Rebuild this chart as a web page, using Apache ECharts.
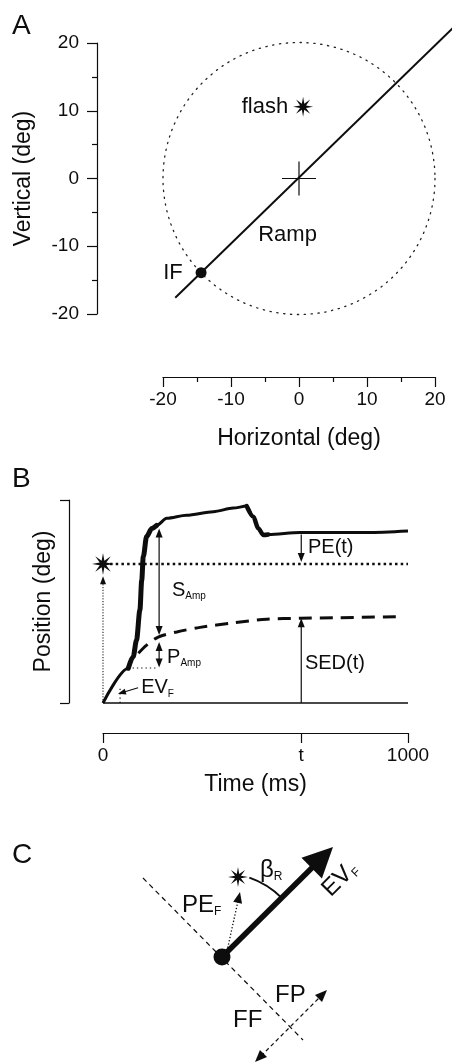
<!DOCTYPE html>
<html><head><meta charset="utf-8">
<script src="https://cdn.jsdelivr.net/npm/echarts@6/dist/echarts.min.js"></script>
<style>html,body{margin:0;padding:0;background:#fff}#c{width:452px;height:1064px}</style>
</head><body><div id="c"></div>
<script>
// ================= DATA =================
// ---- Panel A (deg) ----
const aMin = -20, aMax = 20, aInterval = 10;
const rampX = [-18.2, 22.6];
const rampY = [-17.6, 22.2];
const ifPoint = [-14.4, -13.9];
const flashPoint = [0.6, 10.6];
const crossH = [-2.5, 0, 2.5, 0];
const crossV = [0, -2.5, 0, 2.5];
const circleA = [0, 0, 20];               // centre x, centre y, radius
const labelTextA = ['flash', 'Ramp', 'IF'];
const labelAtA = [[-1.6, 10.6], [-6.0, -8.3], [-17.1, -13.9]];

// ---- Panel B (time ms, position) ----
const timeMin = 0, timeMax = 1000;
const posMin = 0, posMax = 20;
const timeTicks = [0, 650, 1000];
const timeTickText = ['0', 't', '1000'];
const eyeTime = [0, 83, 99, 110, 121, 127, 132, 143, 160, 176, 209, 274, 362, 427, 471, 493, 509, 526, 542, 646, 754, 866, 1000];
const eyePos  = [0, 3.42, 4.56, 6.21, 9.16, 12.1, 14.4, 16.4, 17.2, 17.5, 18.2, 18.5, 18.85, 19.2, 19.4, 18.35, 17.2, 16.55, 16.6, 16.8, 16.8, 16.8, 16.95];
const saccadeIdx = [1, 9];
const pspIdx = [14, 18];
const sedTime = [116, 143, 181, 242, 318, 427, 537, 646, 755, 976];
const sedPos  = [4.9, 5.7, 6.5, 7.0, 7.45, 7.9, 8.25, 8.35, 8.4, 8.5];
const flashB = [0, 13.7];
const flashLineB = [23, 13.7, 1000, 13.7];
const baselineB = [0, 0, 1000, 0];
const peFArrow = [0, 0, 0, 12.5];
const sAmpArrow = [184, 17.2, 184, 6.7];
const pAmpArrow = [184, 6.0, 184, 3.5];
const pAmpGuide = [83, 3.45, 178, 3.45];
const peTArrow = [650, 16.6, 650, 13.9];
const sedTArrow = [650, 0, 650, 8.35];
const evFArrow = [115, 1.5, 49, 0.9];
const evFGuide = [56, 0, 56, 1.5];
const labelTextB = ['PE{s|F}', 'S{s|Amp}', 'P{s|Amp}', 'EV{s|F}', 'PE(t)', 'SED(t)'];
const labelAtB = [[-49, 7.9], [226, 11.1], [210, 4.5], [125, 1.5], [672, 15.3], [662, 3.9]];

// ---- Panel C (schematic units) ----
const cXRange = [-100, 160], cYRange = [-107, 125];
const cDot = [0, 0];
const evArrowC = [0, 0, 111, 110];
const ffLineC = [-79, 79, 81, -83];
const ffArrowC = [33, -105, 105, -33];
const starC = [16, 80];
const peArrowC = [5, 6, 18, 65];
const betaArcC = [0, 0, 84, 45, 71];       // centre, radius, from angle, to angle (deg)
const labelTextC = ['PE{s|F}', 'β{s|R}', 'FP', 'FF'];
const labelAtC = [[-40, 52], [38, 87], [53, -38], [11, -63]];
const evLabelC = ['EV{s|F}', [118, 78]];

// ================= RENDER =================
const FONT = "'Liberation Sans', Arial, Helvetica, sans-serif";
const INK = '#0d0d0d';

function starPath() {
  let d = '';
  for (let i = 0; i < 16; i++) {
    const a = Math.PI * i / 8 - Math.PI / 2;
    const r = i % 2 === 0 ? 10 : 3.2;
    d += (i === 0 ? 'M' : 'L') + (10 + r * Math.cos(a)).toFixed(2) + ',' + (10 + r * Math.sin(a)).toFixed(2);
  }
  return 'path://' + d + 'Z';
}
const STAR = starPath();

function segSeries(gi, segs, o) {
  return {
    type: 'custom', xAxisIndex: gi, yAxisIndex: gi, silent: true, z: o.z || 4, clip: false,
    encode: { x: [0, 2], y: [1, 3] },
    data: segs,
    renderItem: function (params, api) {
      const p1 = api.coord([api.value(0), api.value(1)]);
      const p2 = api.coord([api.value(2), api.value(3)]);
      const dx = p2[0] - p1[0], dy = p2[1] - p1[1];
      const len = Math.hypot(dx, dy) || 1;
      const ux = dx / len, uy = dy / len;
      const L = o.headL || 0, W = o.headW || 0;
      const children = [];
      let a = p1.slice(), b = p2.slice();
      function head(tip, sx, sy) {
        const bx = tip[0] - sx * L, by = tip[1] - sy * L;
        return { type: 'polygon', shape: { points: [tip, [bx - sy * W / 2, by + sx * W / 2], [bx + sy * W / 2, by - sx * W / 2]] }, style: { fill: INK } };
      }
      if (o.end) { children.push(head(p2, ux, uy)); b = [p2[0] - ux * L * 0.7, p2[1] - uy * L * 0.7]; }
      if (o.start) { children.push(head(p1, -ux, -uy)); a = [p1[0] + ux * L * 0.7, p1[1] + uy * L * 0.7]; }
      children.unshift({ type: 'line', shape: { x1: a[0], y1: a[1], x2: b[0], y2: b[1] },
        style: { stroke: INK, lineWidth: o.width || 1, lineDash: o.dash || null, lineCap: o.cap || 'butt', fill: null } });
      return { type: 'group', children: children };
    }
  };
}

function labelSeries(gi, texts, ats, fontSize, aligns, extra) {
  return {
    type: 'scatter', xAxisIndex: gi, yAxisIndex: gi, symbolSize: 0, silent: true, z: 10,
    itemStyle: { opacity: 1 },
    data: texts.map((t, i) => ({
      value: ats[i],
      label: Object.assign({
        show: true, position: 'inside', formatter: t, align: aligns[i], verticalAlign: 'middle',
        fontFamily: FONT, fontSize: fontSize, color: INK, lineHeight: fontSize + 2,
        rich: { s: { fontFamily: FONT, fontSize: Math.round(fontSize * 0.52), lineHeight: Math.round(fontSize * 0.42), verticalAlign: 'bottom', color: INK } }
      }, extra ? extra[i] : {})
    }))
  };
}

function markSeries(gi, pts, symbol, size) {
  return { type: 'scatter', xAxisIndex: gi, yAxisIndex: gi, silent: true, z: 6, data: pts,
    symbol: symbol, symbolSize: size, itemStyle: { color: INK, opacity: 1 } };
}

const axisTxt = { fontFamily: FONT, fontSize: 19, color: INK };
const nameTxt = { fontFamily: FONT, fontSize: 23, color: INK };
const lineAx = { show: true, onZero: false, lineStyle: { color: INK, width: 1.2 } };
const letter = { fontFamily: FONT, fontSize: 28, fontWeight: 'normal', color: INK };

const option = {
  animation: false,
  backgroundColor: '#fff',
  title: [
    { text: 'A', left: 12, top: 12, padding: 0, textStyle: letter },
    { text: 'B', left: 12, top: 465, padding: 0, textStyle: letter },
    { text: 'C', left: 12, top: 841, padding: 0, textStyle: letter }
  ],
  grid: [
    { left: 163, top: 43, width: 272, height: 271 },
    { left: 103, top: 500, width: 305, height: 203 },
    { left: 122, top: 832, width: 260, height: 232 }
  ],
  xAxis: [
    { gridIndex: 0, type: 'value', min: aMin, max: aMax, interval: aInterval, offset: 63,
      axisLine: lineAx, axisTick: { length: 10, lineStyle: { color: INK, width: 1.2 } },
      minorTick: { show: true, splitNumber: 2, length: 5, lineStyle: { color: INK, width: 1.2 } },
      splitLine: { show: false }, minorSplitLine: { show: false },
      axisLabel: Object.assign({ margin: 13 }, axisTxt),
      name: 'Horizontal (deg)', nameLocation: 'middle', nameGap: 50, nameTextStyle: nameTxt },
    { gridIndex: 1, type: 'value', min: timeMin, max: timeMax, offset: 30,
      axisLine: lineAx,
      axisTick: { length: 10, customValues: timeTicks, lineStyle: { color: INK, width: 1.2 } },
      splitLine: { show: false },
      axisLabel: Object.assign({ margin: 13, customValues: timeTicks, formatter: v => timeTickText[timeTicks.indexOf(v)] }, axisTxt),
      name: 'Time (ms)', nameLocation: 'middle', nameGap: 40, nameTextStyle: nameTxt },
    { gridIndex: 2, type: 'value', min: cXRange[0], max: cXRange[1], show: false }
  ],
  yAxis: [
    { gridIndex: 0, type: 'value', min: aMin, max: aMax, interval: aInterval, offset: 66,
      axisLine: lineAx, axisTick: { length: 10, lineStyle: { color: INK, width: 1.2 } },
      minorTick: { show: true, splitNumber: 2, length: 5, lineStyle: { color: INK, width: 1.2 } },
      splitLine: { show: false }, minorSplitLine: { show: false },
      axisLabel: Object.assign({ margin: 18 }, axisTxt),
      name: 'Vertical (deg)', nameLocation: 'middle', nameGap: 62, nameRotate: 90, nameTextStyle: nameTxt },
    { gridIndex: 1, type: 'value', min: posMin, max: posMax, interval: posMax - posMin, offset: 34,
      axisLine: lineAx, axisTick: { length: 9, lineStyle: { color: INK, width: 1.2 } },
      axisLabel: { show: false }, splitLine: { show: false },
      name: 'Position (deg)', nameLocation: 'middle', nameGap: 14, nameRotate: 90, nameTextStyle: nameTxt },
    { gridIndex: 2, type: 'value', min: cYRange[0], max: cYRange[1], show: false }
  ],
  series: [
    // ---------- Panel A ----------
    { type: 'custom', xAxisIndex: 0, yAxisIndex: 0, silent: true, encode: { x: 0, y: 1 }, data: [circleA],
      renderItem: (p, api) => {
        const c = api.coord([api.value(0), api.value(1)]);
        const r = api.size([api.value(2), 0])[0];
        return { type: 'circle', shape: { cx: c[0], cy: c[1], r: r },
          style: { fill: null, stroke: '#222', lineWidth: 1.3, lineDash: [1.3, 5.6], lineCap: 'round' } };
      } },
    segSeries(0, [[rampX[0], rampY[0], rampX[1], rampY[1]]], { width: 2 }),
    segSeries(0, [crossH, crossV], { width: 1.2 }),
    markSeries(0, [ifPoint], 'circle', 11),
    markSeries(0, [flashPoint], STAR, 20),
    labelSeries(0, labelTextA, labelAtA, 22, ['right', 'left', 'right']),

    // ---------- Panel B ----------
    segSeries(1, [baselineB], { width: 1.5 }),
    { type: 'line', xAxisIndex: 1, yAxisIndex: 1, showSymbol: false, silent: true, smooth: 0.3, smoothMonotone: 'x', z: 3,
      data: eyeTime.map((t, i) => [t, eyePos[i]]), lineStyle: { color: INK, width: 3 } },
    { type: 'line', xAxisIndex: 1, yAxisIndex: 1, showSymbol: false, silent: true, smooth: 0.3, smoothMonotone: 'x', z: 3,
      data: eyeTime.slice(saccadeIdx[0], saccadeIdx[1] + 1).map((t, i) => [t, eyePos[i + saccadeIdx[0]]]), lineStyle: { color: INK, width: 5, cap: 'round' } },
    { type: 'line', xAxisIndex: 1, yAxisIndex: 1, showSymbol: false, silent: true, smooth: 0.3, smoothMonotone: 'x', z: 3,
      data: eyeTime.slice(pspIdx[0], pspIdx[1] + 1).map((t, i) => [t, eyePos[i + pspIdx[0]]]), lineStyle: { color: INK, width: 4.5, cap: 'round' } },
    { type: 'line', xAxisIndex: 1, yAxisIndex: 1, showSymbol: false, silent: true, smooth: 0.3, z: 3,
      data: sedTime.map((t, i) => [t, sedPos[i]]), lineStyle: { color: INK, width: 3, type: [13, 8] } },
    segSeries(1, [flashLineB], { width: 2.5, dash: [2.5, 3.2] }),
    markSeries(1, [flashB], STAR, 22),
    segSeries(1, [peFArrow], { width: 1, dash: [1.2, 1.6], end: true, headL: 8, headW: 6 }),
    segSeries(1, [sAmpArrow, pAmpArrow], { width: 1.2, end: true, start: true, headL: 9, headW: 7 }),
    segSeries(1, [pAmpGuide, evFGuide], { width: 1.2, dash: [1.3, 3] }),
    segSeries(1, [peTArrow, sedTArrow], { width: 1.2, end: true, headL: 9, headW: 7 }),
    segSeries(1, [evFArrow], { width: 1.2, end: true, headL: 8, headW: 6 }),
    labelSeries(1, labelTextB, labelAtB, 20, ['left', 'left', 'left', 'left', 'left', 'left'],
      [{ backgroundColor: '#fff', padding: [1, 0] }, {}, {}, {}, {}, {}]),

    // ---------- Panel C ----------
    segSeries(2, [ffLineC], { width: 1.2, dash: [5, 4] }),
    segSeries(2, [ffArrowC], { width: 1.2, dash: [4, 3], end: true, start: true, headL: 12, headW: 10 }),
    segSeries(2, [evArrowC], { width: 5.5, end: true, headL: 30, headW: 29 }),
    segSeries(2, [peArrowC], { width: 1.3, dash: [1.3, 2], end: true, headL: 11, headW: 9 }),
    { type: 'custom', xAxisIndex: 2, yAxisIndex: 2, silent: true, encode: { x: 0, y: 1 }, data: [betaArcC],
      renderItem: (p, api) => {
        const c = api.coord([api.value(0), api.value(1)]);
        const r = api.size([api.value(2), 0])[0];
        return { type: 'arc', shape: { cx: c[0], cy: c[1], r: r,
          startAngle: -api.value(4) * Math.PI / 180, endAngle: -api.value(3) * Math.PI / 180, clockwise: true },
          style: { fill: null, stroke: INK, lineWidth: 2 } };
      } },
    markSeries(2, [cDot], 'circle', 17),
    markSeries(2, [starC], STAR, 20),
    labelSeries(2, labelTextC, labelAtC, 24, ['left', 'left', 'left', 'left']),
    labelSeries(2, [evLabelC[0]], [evLabelC[1]], 24, ['center'], [{ rotate: 45 }])
  ]
};

const chart = echarts.init(document.getElementById('c'), null, { renderer: 'canvas' });
chart.setOption(option);
</script>
</body></html>
